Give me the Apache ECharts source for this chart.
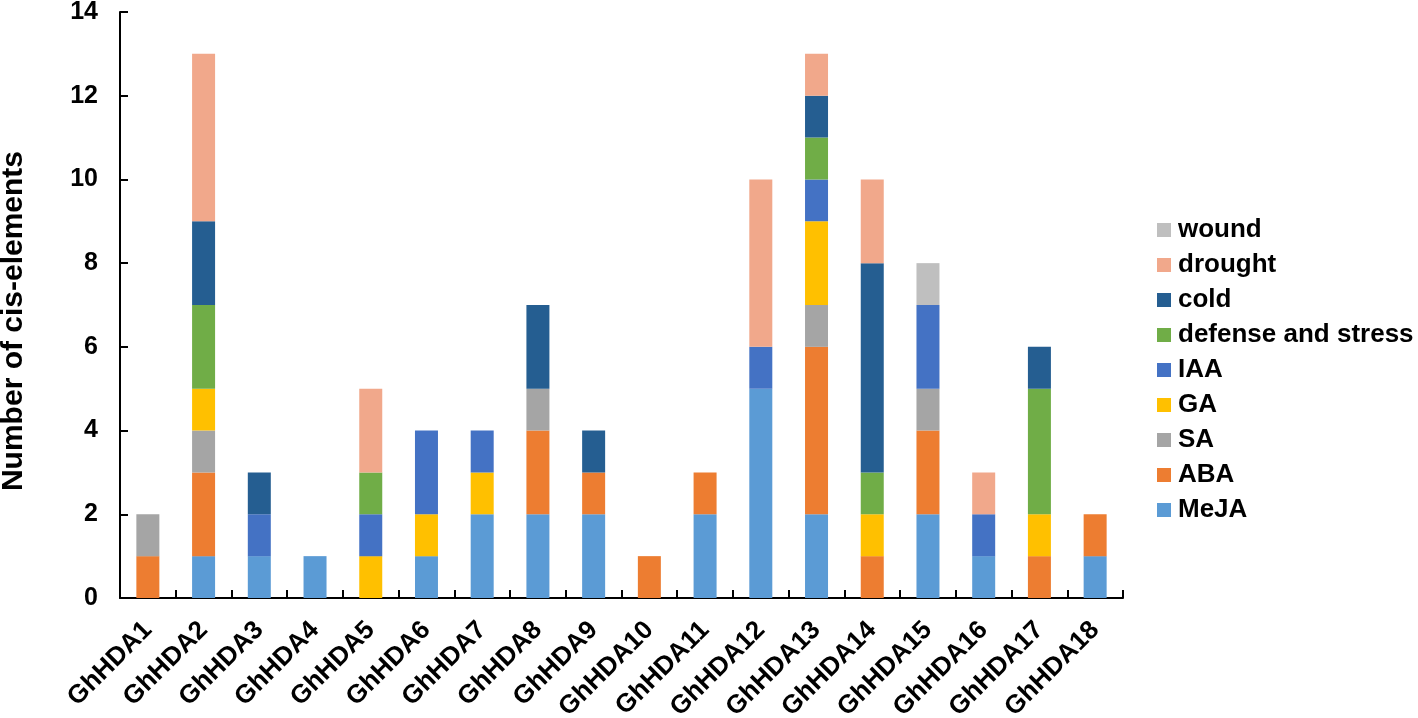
<!DOCTYPE html>
<html>
<head>
<meta charset="utf-8">
<script src="https://cdn.jsdelivr.net/npm/echarts@6/dist/echarts.min.js"></script>
<style>html,body{margin:0;padding:0;background:#fff}#c{width:1418px;height:718px}</style>
</head>
<body>
<div id="c"></div>
<script>
const categories = ['GhHDA1','GhHDA2','GhHDA3','GhHDA4','GhHDA5','GhHDA6','GhHDA7','GhHDA8','GhHDA9','GhHDA10','GhHDA11','GhHDA12','GhHDA13','GhHDA14','GhHDA15','GhHDA16','GhHDA17','GhHDA18'];
const MeJA     = [0,1,1,1,0,1,2,2,2,0,2,5,2,0,2,1,0,1];
const ABA      = [1,2,0,0,0,0,0,2,1,1,1,0,4,1,2,0,1,1];
const SA       = [1,1,0,0,0,0,0,1,0,0,0,0,1,0,1,0,0,0];
const GA       = [0,1,0,0,1,1,1,0,0,0,0,0,2,1,0,0,1,0];
const IAA      = [0,0,1,0,1,2,1,0,0,0,0,1,1,0,2,1,0,0];
const defense  = [0,2,0,0,1,0,0,0,0,0,0,0,1,1,0,0,3,0];
const cold     = [0,2,1,0,0,0,0,2,1,0,0,0,1,5,0,0,1,0];
const drought  = [0,4,0,0,2,0,0,0,0,0,0,4,1,2,0,1,0,0];
const wound    = [0,0,0,0,0,0,0,0,0,0,0,0,0,0,1,0,0,0];
const yTicks = [0,2,4,6,8,10,12,14];

const seriesDefs = [
  ['MeJA', MeJA, '#5B9BD5'],
  ['ABA', ABA, '#ED7D31'],
  ['SA', SA, '#A5A5A5'],
  ['GA', GA, '#FFC000'],
  ['IAA', IAA, '#4472C4'],
  ['defense and stress', defense, '#70AD47'],
  ['cold', cold, '#255E91'],
  ['drought', drought, '#F1A88B'],
  ['wound', wound, '#BFBFBF']
];

const font = 'Liberation Sans, Arial, sans-serif';
const chart = echarts.init(document.getElementById('c'));
chart.setOption({
  animation: false,
  backgroundColor: '#fff',
  grid: {left: 120, right: 295, top: 12, bottom: 120, containLabel: false, outerBoundsMode: 'none'},
  legend: {
    orient: 'vertical',
    left: 1152, top: 212,
    itemWidth: 14, itemHeight: 14, itemGap: 9,
    icon: 'rect',
    data: seriesDefs.map(s => s[0]).reverse(),
    textStyle: {fontFamily: font, fontWeight: 'bold', fontSize: 26, color: '#000', lineHeight: 26, padding: [0,0,0,2]}
  },
  xAxis: {
    type: 'category',
    data: categories,
    axisLine: {lineStyle: {color: '#000', width: 2}},
    axisTick: {show: true, inside: true, length: 8, lineStyle: {color: '#000', width: 2}},
    axisLabel: {rotate: 45, interval: 0, margin: 28, fontFamily: font, fontWeight: 'bold', fontSize: 26, color: '#000'}
  },
  yAxis: {
    type: 'value',
    min: 0, max: 14, interval: 2,
    splitLine: {show: false},
    axisLine: {show: true, lineStyle: {color: '#000', width: 2}},
    axisTick: {show: true, inside: true, length: 8, lineStyle: {color: '#000', width: 2}},
    axisLabel: {margin: 22, fontFamily: font, fontWeight: 'bold', fontSize: 25, color: '#000',
      formatter: v => yTicks.includes(v) ? String(v) : ''}
  },
  graphic: [{
    type: 'text',
    x: 14, y: 321,
    rotation: Math.PI / 2,
    style: {text: 'Number of cis-elements', fontFamily: font, fontWeight: 'bold', fontSize: 30, fill: '#000', align: 'center', verticalAlign: 'middle'}
  }],
  series: seriesDefs.map(([name, data, color]) => ({
    name, type: 'bar', stack: 'total', data, barWidth: 23,
    itemStyle: {color}
  }))
});
</script>
</body>
</html>
